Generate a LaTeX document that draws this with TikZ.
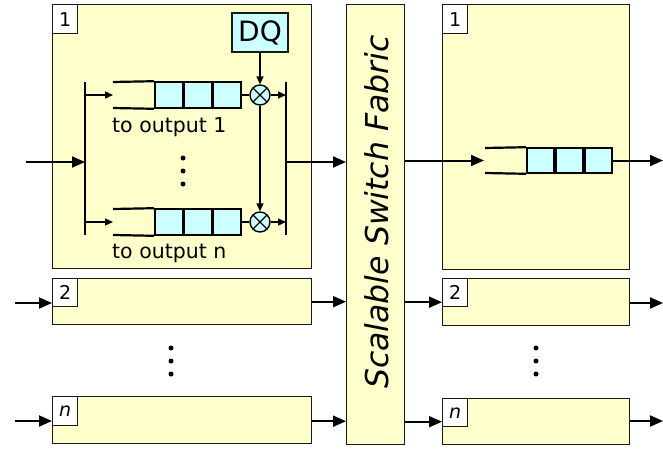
\documentclass[tikz,border=0pt]{standalone}
\usepackage{fontspec}
\setmainfont{DejaVu Sans}
\usetikzlibrary{arrows.meta,calc}
\definecolor{yfill}{HTML}{FFFFCC}
\definecolor{cfill}{HTML}{CCFFFF}
\begin{document}
\begin{tikzpicture}[x=1pt,y=-1pt,
  box/.style={draw=black!90, fill=yfill, line width=1.4pt, inner sep=0pt, anchor=north west},
  numbox/.style={draw=black!90, fill=white, line width=1.4pt, inner sep=0pt, anchor=north west,
    minimum width=25pt, minimum height=28pt, font=\fontsize{19}{19}\selectfont},
  cell/.style={draw=black, fill=cfill, line width=1.6pt, minimum width=27.7pt, minimum height=26pt,
    inner sep=0pt, anchor=west},
  qline/.style={line width=2.2pt},
  bar/.style={line width=1.6pt},
  big/.style={-{Triangle[length=13pt,width=11pt]}, line width=2pt},
  small/.style={-{Triangle[length=8pt,width=7pt]}, line width=1.4pt},
  mult/.style={circle, draw=black, fill=cfill, minimum size=20pt, inner sep=0pt, line width=1.4pt,
    path picture={\draw[line width=1.2pt]
      ([shift={(-7pt,-7pt)}]path picture bounding box.center) -- ([shift={(7pt,7pt)}]path picture bounding box.center)
      ([shift={(-7pt,7pt)}]path picture bounding box.center) -- ([shift={(7pt,-7pt)}]path picture bounding box.center);}},
  txt/.style={font=\fontsize{20.5}{20.5}\selectfont, inner sep=0pt},
  dotc/.style={circle, fill=black, minimum size=5pt, inner sep=0pt}
]
\useasboundingbox (0,0) rectangle (663,452);

% ---------- input side boxes ----------
\node[box, minimum width=259pt, minimum height=264pt] (in1) at (52,4) {};
\node[box, minimum width=259pt, minimum height=46pt] (in2) at (52,278) {};
\node[box, minimum width=259pt, minimum height=47pt] (inn) at (52,396) {};
\node[numbox, minimum height=29pt] (l1) at (52,4) {1};
\node[numbox] (l2) at (52,278) {2};
\node[numbox, minimum height=29pt] (ln) at (52,396) {\itshape n};

% ---------- fabric ----------
\node[box, minimum width=58pt, minimum height=440pt] (fab) at (346,4) {};
\node[rotate=90, font=\fontsize{31.5}{31.5}\selectfont\itshape, inner sep=0pt] (fabtxt) at (377,212) {Scalable Switch Fabric};

% ---------- output side boxes ----------
\node[box, minimum width=187pt, minimum height=265pt] (out1) at (442,4) {};
\node[box, minimum width=187pt, minimum height=47pt] (out2) at (442,278) {};
\node[box, minimum width=187pt, minimum height=46pt] (outn) at (442,398) {};
\node[numbox, minimum height=29pt] (r1) at (442,4) {1};
\node[numbox] (r2) at (442,278) {2};
\node[numbox] (rn) at (442,398) {\itshape n};

% ---------- inside input box 1 ----------
\coordinate (barLt) at (85,82);
\coordinate (barLb) at (85,235);
\coordinate (barRt) at (286,82);
\coordinate (barRb) at (286,235);
\draw[bar] (barLt) -- (barLb);
\draw[bar] (barRt) -- (barRb);

% queue 1
\node[cell] (q1a) at (154,95) {};
\node[cell] (q1b) at (q1a.east) {};
\node[cell] (q1c) at (q1b.east) {};
\coordinate (q1l) at (113,95);
\draw[qline] (113,82) -- (q1a.north west);
\draw[qline] (113,108) -- (q1a.south west);
% queue n
\node[cell] (qna) at (154,222) {};
\node[cell] (qnb) at (qna.east) {};
\node[cell] (qnc) at (qnb.east) {};
\coordinate (qnl) at (113,222);
\draw[qline] (113,209) -- (qna.north west);
\draw[qline] (113,235) -- (qna.south west);

% multipliers and DQ
\node[mult] (m1) at (260,95) {};
\node[mult] (mn) at (260,222) {};
\node[draw=black!90, fill=cfill, line width=1.4pt, minimum width=56pt, minimum height=39pt, inner sep=0pt,
  font=\fontsize{28}{28}\selectfont] (dq) at (260,32.5) {DQ};

\draw[small] (dq.south) -- (m1.north);
\draw[small] (m1.south) -- (mn.north);
\draw[line width=1.4pt] (q1c.east) -- (m1.west);
\draw[line width=1.4pt] (qnc.east) -- (mn.west);
\draw[small] (m1.east) -- (m1.east -| barRt);
\draw[small] (mn.east) -- (mn.east -| barRt);
\draw[small] (q1l -| barLt) -- (q1l);
\draw[small] (qnl -| barLt) -- (qnl);

\node[txt, anchor=west] (t1) at (112,127) {to output 1};
\node[txt, anchor=west] (tn) at (112,253) {to output n};

\node[dotc] (d1) at (183,158) {};
\node[dotc] (d2) at (183,171) {};
\node[dotc] (d3) at (183,184) {};

% input arrows
\coordinate (src1) at (26,162);
\coordinate (src2) at (15,303);
\coordinate (srcn) at (15,421);
\draw[big] (src1) -- (src1 -| barLt);
\draw[big] (src2) -- (src2 -| in2.west);
\draw[big] (srcn) -- (srcn -| inn.west);

% to fabric
\coordinate (o1) at (286,162);
\draw[big] (o1) -- (o1 -| fab.west);
\draw[big] (in2.east) -- (in2.east -| fab.west);
\draw[big] ([yshift=-1pt]inn.east) -- ([yshift=-1pt]inn.east -| fab.west);

% left dots
\node[dotc] (ld1) at (171,348) {};
\node[dotc] (ld2) at (171,361) {};
\node[dotc] (ld3) at (171,374) {};

% ---------- inside output box 1 ----------
\node[cell, minimum width=27.4pt, minimum height=25pt] (oqa) at (526,160.5) {};
\node[cell, minimum width=27.4pt, minimum height=25pt] (oqb) at (oqa.east) {};
\node[cell, minimum width=27.4pt, minimum height=25pt] (oqc) at (oqb.east) {};
\coordinate (oql) at (484,160.5);
\draw[qline] (485,148) -- (oqa.north west);
\draw[qline] (485,173) -- (oqa.south west);

\draw[big] (oql -| fab.east) -- (oql);
\coordinate (dst1) at (663,160.5);
\draw[big] (oqc.east) -- (dst1);

% fabric to output boxes
\draw[big] (fab.east |- out2.west) -- (out2.west);
\draw[big] (fab.east |- outn.west) -- (outn.west);
\coordinate (dst2) at (663,303);
\coordinate (dstn) at (663,421);
\draw[big] (dst2 -| out2.east) -- (dst2);
\draw[big] (dstn -| outn.east) -- (dstn);

% right dots
\node[dotc] (rd1) at (536,348) {};
\node[dotc] (rd2) at (536,361) {};
\node[dotc] (rd3) at (536,374) {};
\end{tikzpicture}
\end{document}
